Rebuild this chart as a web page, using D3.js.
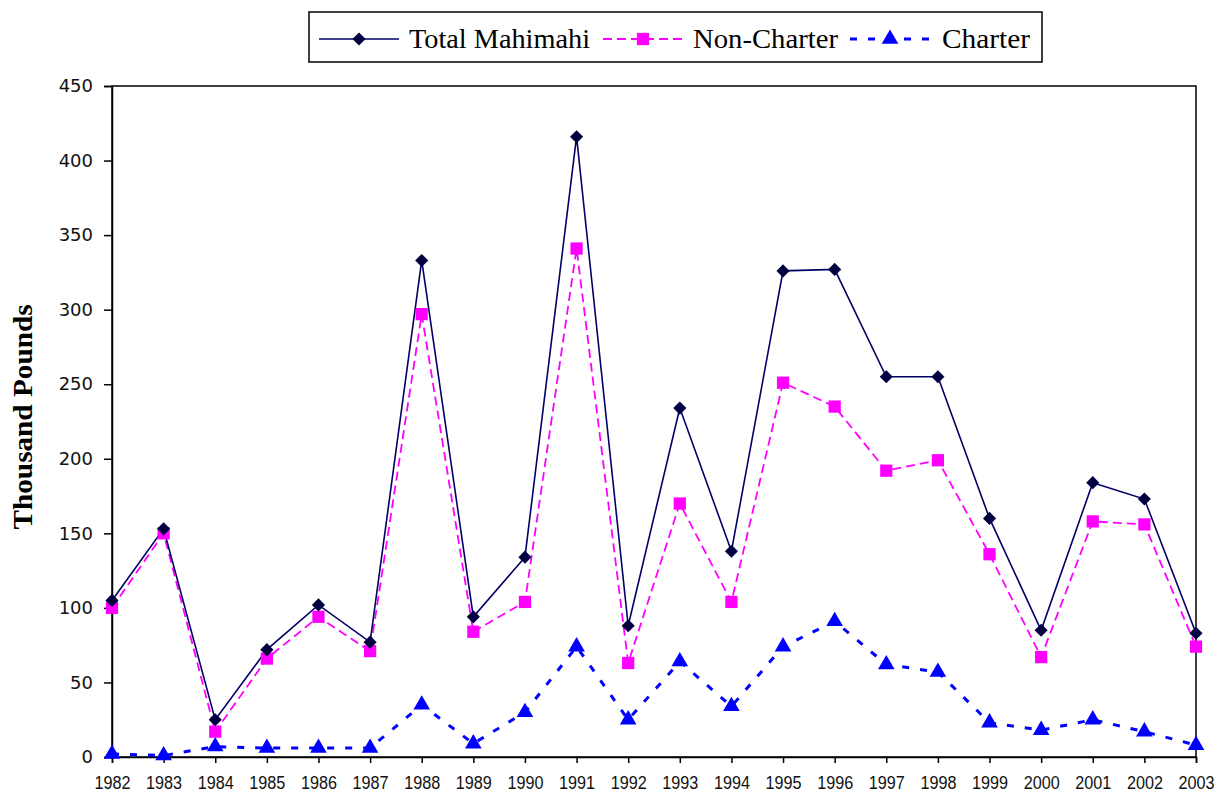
<!DOCTYPE html>
<html><head><meta charset="utf-8">
<script src="https://cdn.jsdelivr.net/npm/d3@7"></script>
<style>body{margin:0;background:#fff}svg{display:block}</style>
</head><body><svg id="c" width="1218" height="792"></svg>
<script>
const years = [1982,1983,1984,1985,1986,1987,1988,1989,1990,1991,1992,1993,1994,1995,1996,1997,1998,1999,2000,2001,2002,2003];
const totalMahimahi = [105,153,25,72,102,77,333,94,134,416,88,234,138,326,327,255,255,160,85,184,173,83];
const nonCharter = [100,150,17,66,94,71,297,84,104,341,63,170,104,251,235,192,199,136,67,158,156,74];
const charter = [2,1,7,6,6,6,35,9,30,74,25,64,34,74,91,62,57,23,18,25,17,8];
const yTicks = [0,50,100,150,200,250,300,350,400,450];
const seriesNames = ["Total Mahimahi","Non-Charter","Charter"];
const yTitle = "Thousand Pounds";

const svg = d3.select("#c");
const L=112, R=1196, T=86, B=757;
const x = d3.scalePoint().domain(years).range([L,R]);
const y = d3.scaleLinear().domain([0,450]).range([B,T]);

// plot border
svg.append("rect").attr("x",L).attr("y",T).attr("width",R-L).attr("height",B-T)
  .attr("fill","none").attr("stroke","#000").attr("stroke-width",1.5);

// y axis
const ya = svg.append("g").attr("transform",`translate(${L},0)`)
  .call(d3.axisLeft(y).tickValues(yTicks).tickSize(8).tickPadding(11).tickFormat(d3.format("d")));
ya.select(".domain").attr("stroke","#000").attr("stroke-width",1.5);
ya.selectAll("line").attr("stroke","#000").attr("stroke-width",1.5);
ya.selectAll("text").attr("font-family","DejaVu Sans").attr("font-size",18).attr("fill","#111");

// x axis
const xa = svg.append("g").attr("transform",`translate(0,${B})`)
  .call(d3.axisBottom(x).tickSize(6).tickPadding(13).tickFormat(d3.format("d")));
xa.select(".domain").attr("stroke","#000").attr("stroke-width",1.5);
xa.selectAll("line").attr("stroke","#000").attr("stroke-width",1.5);
xa.selectAll("text").attr("font-family","Liberation Sans").attr("font-size",18).attr("fill","#111")
  .attr("textLength",36).attr("lengthAdjust","spacingAndGlyphs");

// y label
svg.append("text").attr("transform","translate(32,417) rotate(-90)")
  .attr("text-anchor","middle").attr("font-family","Liberation Serif").attr("font-weight","bold")
  .attr("font-size",28).attr("textLength",225).attr("lengthAdjust","spacingAndGlyphs").text(yTitle);

const line = d3.line().x((d,i)=>x(years[i])).y(d=>y(d));

const series = [
  {data:totalMahimahi, color:"#000066", dash:null, w:1.6, sym:d3.symbolDiamond2, size:110, mcolor:"#000040"},
  {data:nonCharter, color:"#FF00FF", dash:"9,5", w:1.8, sym:d3.symbolSquare, size:150, mcolor:"#FF00FF"},
  {data:charter, color:"#0000FF", dash:"7,11", w:3, sym:d3.symbolTriangle, size:120, mcolor:"#0000FF"}
];

series.slice().reverse().forEach(s=>{
  svg.append("path").datum(s.data).attr("d",line).attr("fill","none")
    .attr("stroke",s.color).attr("stroke-width",s.w).attr("stroke-dasharray",s.dash);
});
series.slice().reverse().forEach(s=>{
  svg.append("g").selectAll("path").data(s.data).join("path")
    .attr("transform",(d,i)=>`translate(${x(years[i])},${y(d)})`)
    .attr("d",d3.symbol().type(s.sym).size(s.size)).attr("fill",s.mcolor);
});

// legend
const lg = svg.append("g");
lg.append("rect").attr("x",309).attr("y",12).attr("width",733).attr("height",50)
  .attr("fill","#fff").attr("stroke","#000").attr("stroke-width",1.5);
const lx = [319,603,850];
const tx = [409,693,942];
const tw = [181,145,88];
series.forEach((s,i)=>{
  lg.append("line").attr("x1",lx[i]).attr("x2",lx[i]+80).attr("y1",39).attr("y2",39)
    .attr("stroke",s.color).attr("stroke-width",s.w).attr("stroke-dasharray",s.dash);
  lg.append("path").attr("transform",`translate(${lx[i]+40},39)`)
    .attr("d",d3.symbol().type(s.sym).size(s.size)).attr("fill",s.mcolor);
  lg.append("text").attr("x",tx[i]).attr("y",48).attr("font-family","Liberation Serif")
    .attr("font-size",28).attr("textLength",tw[i]).attr("lengthAdjust","spacingAndGlyphs").text(seriesNames[i]);
});
</script></body></html>
